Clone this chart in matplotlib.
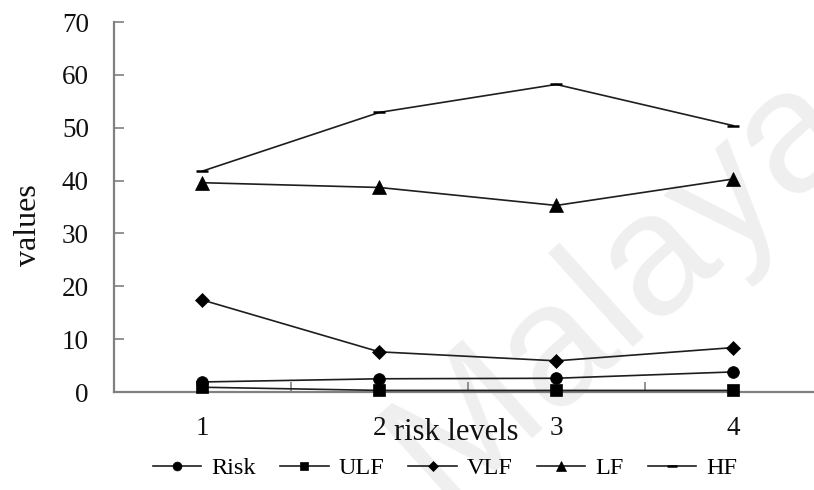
import matplotlib
matplotlib.use("Agg")
import matplotlib.pyplot as plt
from matplotlib.ticker import FixedLocator

# ---- data ----
levels = [1, 2, 3, 4]
level_labels = ["1", "2", "3", "4"]
risk = [1.9, 2.5, 2.6, 3.8]
ulf = [0.9, 0.3, 0.3, 0.3]
vlf = [17.4, 7.6, 5.9, 8.4]
lf = [39.6, 38.7, 35.3, 40.3]
hf = [41.8, 52.9, 58.2, 50.4]
series_names = ["Risk", "ULF", "VLF", "LF", "HF"]
y_ticks = [0, 10, 20, 30, 40, 50, 60, 70]

plt.rcParams['font.family'] = ['Liberation Serif', 'DejaVu Serif']

fig = plt.figure(figsize=(8.14, 4.90), dpi=100)
ax = fig.add_axes([114/814, 0.2, 1 - 114/814, 0.955 - 0.2])
ax.patch.set_visible(False)

# watermark
fig.text(620 / 814, 1 - 285 / 490, "Malaya", family="Liberation Sans", fontsize=125,
         color="#efefef", rotation=42, ha="center", va="center", zorder=-5)

lc = "#1e1e1e"
series = [risk, ulf, vlf, lf, hf]
markers = ["o", "s", "D", "^", "_"]
msizes = [8.5, 8, 7, 9.5, 9]
handles = []
for name, vals, m, ms in zip(series_names, series, markers, msizes):
    h, = ax.plot(levels, vals, color=lc, lw=1.2, marker=m, markersize=ms,
                 markerfacecolor="black", markeredgecolor="black",
                 markeredgewidth=1.8 if m == "_" else 0.5, label=name,
                 clip_on=False, zorder=3)
    handles.append(h)

ax.set_xlim(0.5, 4 + (814 - 733) / 177.3)
ax.set_ylim(0, 70)
ax.set_yticks(y_ticks)
ax.set_xticks(levels)
ax.set_xticklabels(level_labels)
ax.xaxis.set_minor_locator(FixedLocator([1.5, 2.5, 3.5]))

for s in ["top", "right"]:
    ax.spines[s].set_visible(False)
for s in ["left", "bottom"]:
    ax.spines[s].set_color("#808080")
    ax.spines[s].set_linewidth(1.6)

ax.tick_params(axis="y", direction="in", length=7, width=1.2, color="#808080",
               labelsize=19.5, pad=18, labelcolor="#111111")
ax.tick_params(axis="x", which="major", length=0, labelsize=19.5, pad=17,
               labelcolor="#111111")
ax.tick_params(axis="x", which="minor", direction="in", length=7, width=1.2,
               color="#808080")

ax.set_ylabel("values", fontsize=23, color="#111111", va="center")
ax.yaxis.set_label_coords(-(114 - 29) / 700, 0.45)
ax.set_xlabel("risk levels", fontsize=22, color="#111111", va="center")
ax.xaxis.set_label_coords((456 - 114) / 700, -(433 - 392) / 370)

leg = fig.legend(handles=handles, loc="center", bbox_to_anchor=(445 / 814, 22 / 490),
                 ncol=5, frameon=False, fontsize=17.5, handlelength=2.0,
                 handletextpad=0.4, columnspacing=1.0, markerscale=0.75)

fig.savefig("out.png", dpi=100)
